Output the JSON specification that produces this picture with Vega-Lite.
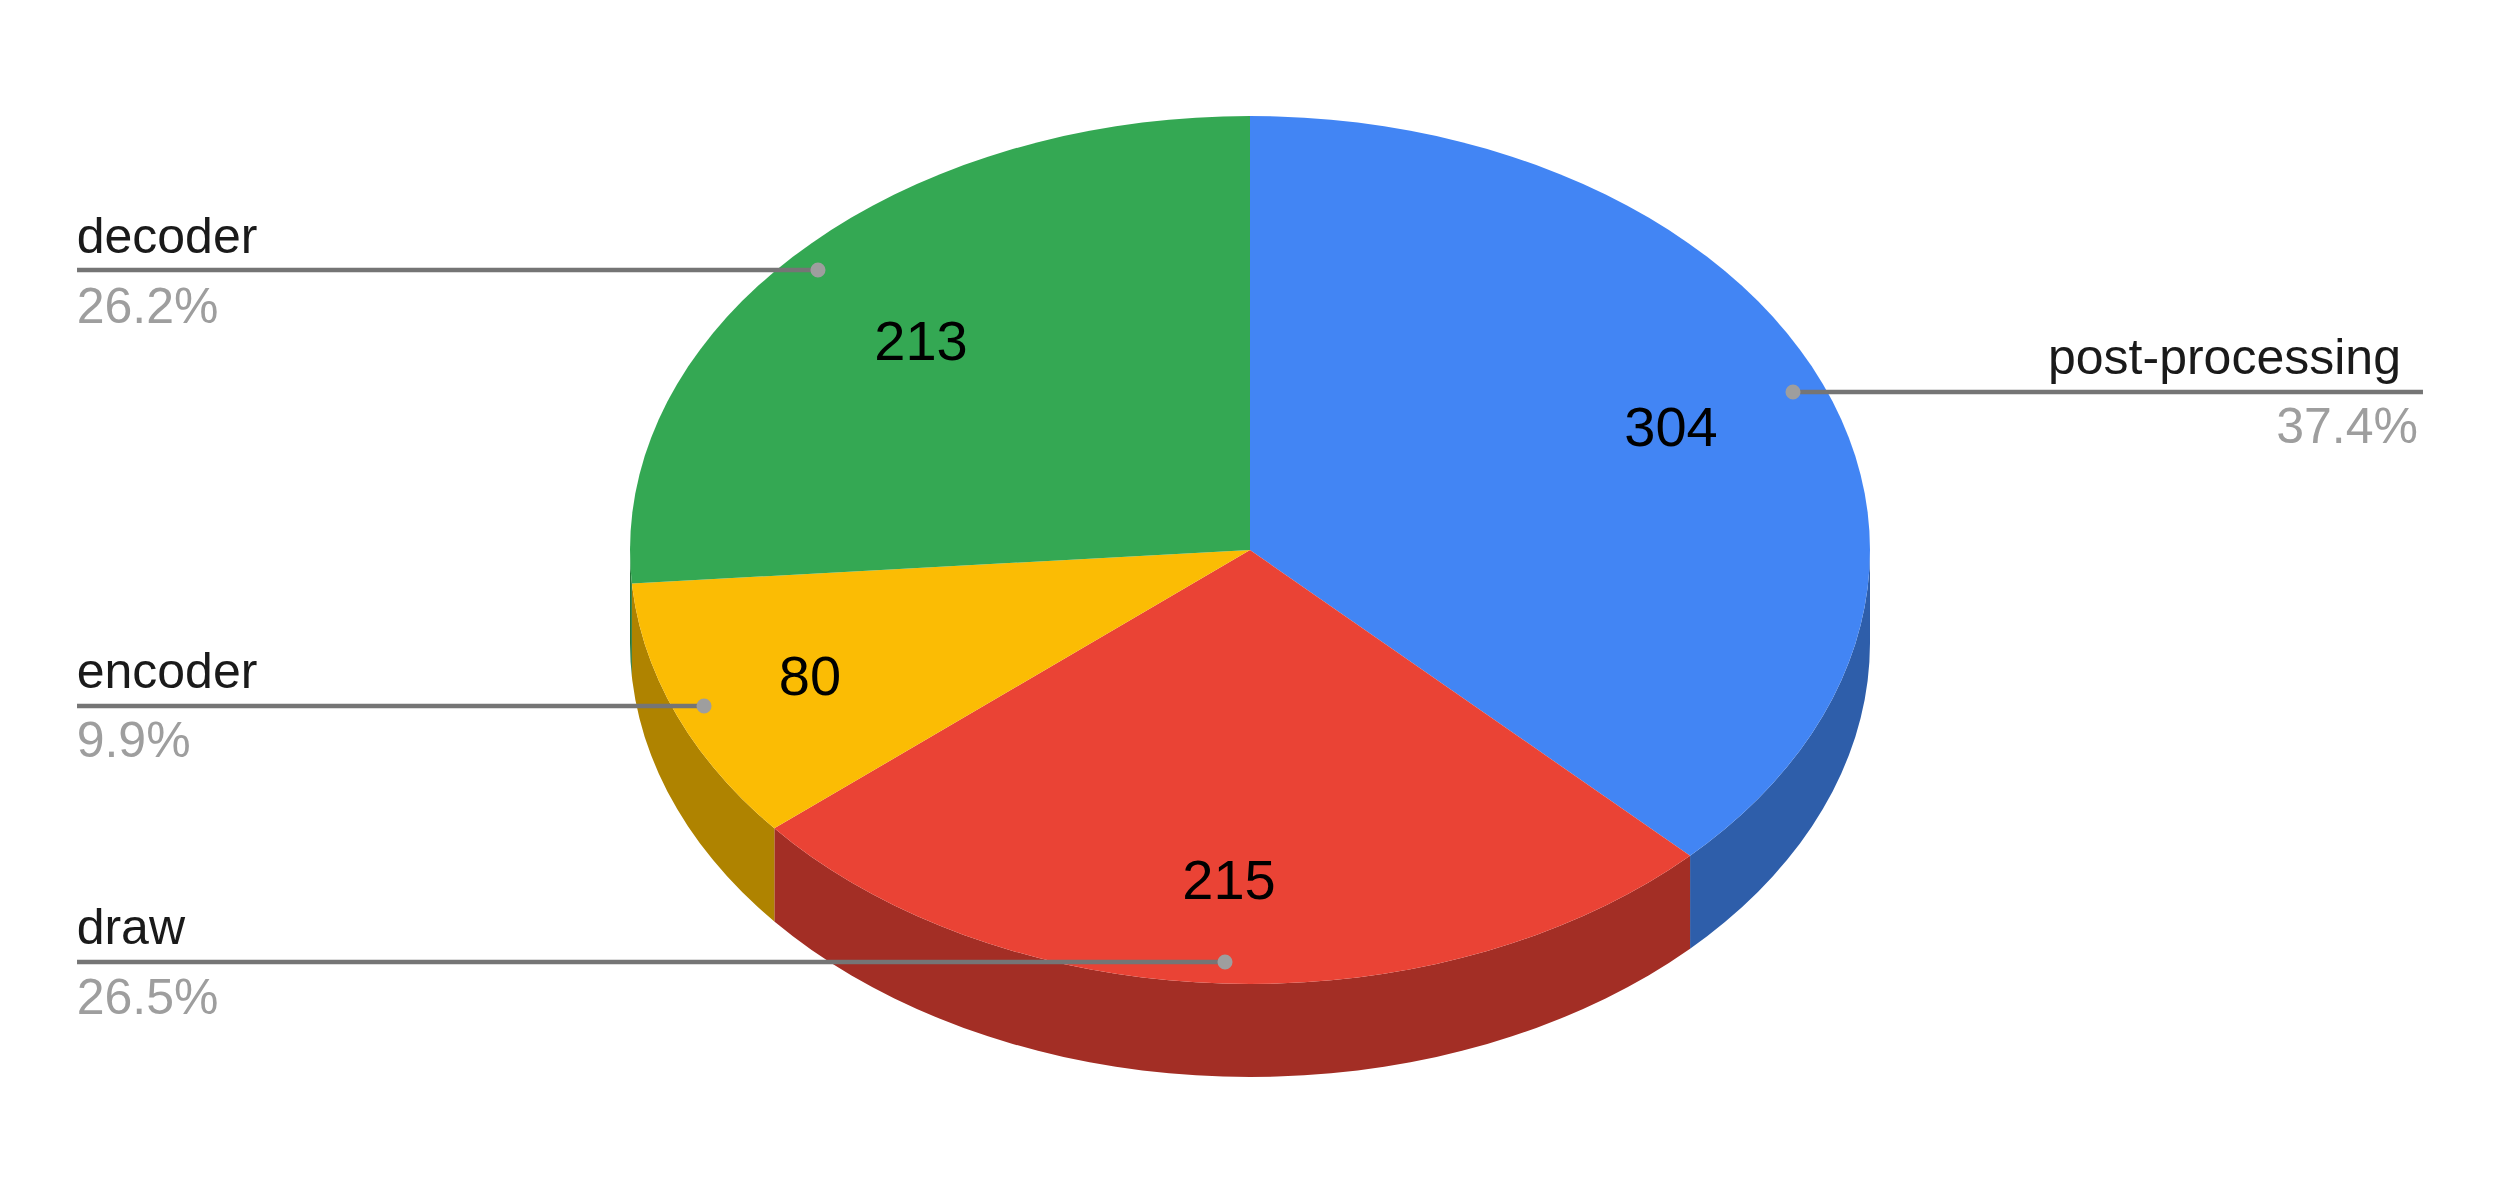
{
  "$schema": "https://vega.github.io/schema/vega-lite/v6.json",
  "description": "3D pie chart of time per stage, drawn as ellipse outlines squashed by the y scale",
  "background": "white",
  "padding": 0,
  "autosize": {"type": "fit", "contains": "padding"},
  "width": 2500,
  "height": 1203,
  "datasets": {
    "wall": [
      {"slice":"post-processing","x":100,"y":0,"y2":-21.43},{"slice":"post-processing","x":99.9,"y":-4.36,"y2":-25.79},{"slice":"post-processing","x":99.62,"y":-8.72,"y2":-30.15},{"slice":"post-processing","x":99.14,"y":-13.05,"y2":-34.48},
      {"slice":"post-processing","x":98.48,"y":-17.36,"y2":-38.79},{"slice":"post-processing","x":97.63,"y":-21.64,"y2":-43.07},{"slice":"post-processing","x":96.59,"y":-25.88,"y2":-47.31},{"slice":"post-processing","x":95.37,"y":-30.07,"y2":-51.5},
      {"slice":"post-processing","x":93.97,"y":-34.2,"y2":-55.63},{"slice":"post-processing","x":92.39,"y":-38.27,"y2":-59.7},{"slice":"post-processing","x":90.63,"y":-42.26,"y2":-63.69},{"slice":"post-processing","x":88.7,"y":-46.17,"y2":-67.6},
      {"slice":"post-processing","x":86.6,"y":-50,"y2":-71.43},{"slice":"post-processing","x":84.34,"y":-53.73,"y2":-75.16},{"slice":"post-processing","x":81.92,"y":-57.36,"y2":-78.79},{"slice":"post-processing","x":79.34,"y":-60.88,"y2":-82.31},
      {"slice":"post-processing","x":76.6,"y":-64.28,"y2":-85.71},{"slice":"post-processing","x":73.73,"y":-67.56,"y2":-88.99},{"slice":"post-processing","x":70.98,"y":-70.44,"y2":-91.87},
      {"slice":"draw","x":70.98,"y":-70.44,"y2":-91.87},{"slice":"draw","x":67.56,"y":-73.73,"y2":-95.16},{"slice":"draw","x":64.28,"y":-76.6,"y2":-98.03},{"slice":"draw","x":60.88,"y":-79.34,"y2":-100.77},
      {"slice":"draw","x":57.36,"y":-81.92,"y2":-103.35},{"slice":"draw","x":53.73,"y":-84.34,"y2":-105.77},{"slice":"draw","x":50,"y":-86.6,"y2":-108.03},{"slice":"draw","x":46.17,"y":-88.7,"y2":-110.13},
      {"slice":"draw","x":42.26,"y":-90.63,"y2":-112.06},{"slice":"draw","x":38.27,"y":-92.39,"y2":-113.82},{"slice":"draw","x":34.2,"y":-93.97,"y2":-115.4},{"slice":"draw","x":30.07,"y":-95.37,"y2":-116.8},
      {"slice":"draw","x":25.88,"y":-96.59,"y2":-118.02},{"slice":"draw","x":21.64,"y":-97.63,"y2":-119.06},{"slice":"draw","x":17.36,"y":-98.48,"y2":-119.91},{"slice":"draw","x":13.05,"y":-99.14,"y2":-120.57},
      {"slice":"draw","x":8.72,"y":-99.62,"y2":-121.05},{"slice":"draw","x":4.36,"y":-99.9,"y2":-121.33},{"slice":"draw","x":0,"y":-100,"y2":-121.43},{"slice":"draw","x":-4.36,"y":-99.9,"y2":-121.33},
      {"slice":"draw","x":-8.72,"y":-99.62,"y2":-121.05},{"slice":"draw","x":-13.05,"y":-99.14,"y2":-120.57},{"slice":"draw","x":-17.36,"y":-98.48,"y2":-119.91},{"slice":"draw","x":-21.64,"y":-97.63,"y2":-119.06},
      {"slice":"draw","x":-25.88,"y":-96.59,"y2":-118.02},{"slice":"draw","x":-30.07,"y":-95.37,"y2":-116.8},{"slice":"draw","x":-34.2,"y":-93.97,"y2":-115.4},{"slice":"draw","x":-38.27,"y":-92.39,"y2":-113.82},
      {"slice":"draw","x":-42.26,"y":-90.63,"y2":-112.06},{"slice":"draw","x":-46.17,"y":-88.7,"y2":-110.13},{"slice":"draw","x":-50,"y":-86.6,"y2":-108.03},{"slice":"draw","x":-53.73,"y":-84.34,"y2":-105.77},
      {"slice":"draw","x":-57.36,"y":-81.92,"y2":-103.35},{"slice":"draw","x":-60.88,"y":-79.34,"y2":-100.77},{"slice":"draw","x":-64.28,"y":-76.6,"y2":-98.03},{"slice":"draw","x":-67.56,"y":-73.73,"y2":-95.16},
      {"slice":"draw","x":-70.71,"y":-70.71,"y2":-92.14},{"slice":"draw","x":-73.73,"y":-67.56,"y2":-88.99},{"slice":"draw","x":-76.72,"y":-64.14,"y2":-85.57},
      {"slice":"encoder","x":-76.72,"y":-64.14,"y2":-85.57},{"slice":"encoder","x":-79.34,"y":-60.88,"y2":-82.31},{"slice":"encoder","x":-81.92,"y":-57.36,"y2":-78.79},{"slice":"encoder","x":-84.34,"y":-53.73,"y2":-75.16},
      {"slice":"encoder","x":-86.6,"y":-50,"y2":-71.43},{"slice":"encoder","x":-88.7,"y":-46.17,"y2":-67.6},{"slice":"encoder","x":-90.63,"y":-42.26,"y2":-63.69},{"slice":"encoder","x":-92.39,"y":-38.27,"y2":-59.7},
      {"slice":"encoder","x":-93.97,"y":-34.2,"y2":-55.63},{"slice":"encoder","x":-95.37,"y":-30.07,"y2":-51.5},{"slice":"encoder","x":-96.59,"y":-25.88,"y2":-47.31},{"slice":"encoder","x":-97.63,"y":-21.64,"y2":-43.07},
      {"slice":"encoder","x":-98.48,"y":-17.36,"y2":-38.79},{"slice":"encoder","x":-99.14,"y":-13.05,"y2":-34.48},{"slice":"encoder","x":-99.62,"y":-8.72,"y2":-30.15},{"slice":"encoder","x":-99.7,"y":-7.72,"y2":-29.15},
      {"slice":"decoder","x":-99.7,"y":-7.72,"y2":-29.15},{"slice":"decoder","x":-99.9,"y":-4.36,"y2":-25.79},{"slice":"decoder","x":-100,"y":0,"y2":-21.43}
    ],
    "top": [
      {"slice":"post-processing","x":0,"y":0},{"slice":"post-processing","x":0,"y":100},{"slice":"post-processing","x":4.36,"y":99.9},{"slice":"post-processing","x":8.72,"y":99.62},{"slice":"post-processing","x":13.05,"y":99.14},
      {"slice":"post-processing","x":17.36,"y":98.48},{"slice":"post-processing","x":21.64,"y":97.63},{"slice":"post-processing","x":25.88,"y":96.59},{"slice":"post-processing","x":30.07,"y":95.37},{"slice":"post-processing","x":34.2,"y":93.97},
      {"slice":"post-processing","x":38.27,"y":92.39},{"slice":"post-processing","x":42.26,"y":90.63},{"slice":"post-processing","x":46.17,"y":88.7},{"slice":"post-processing","x":50,"y":86.6},{"slice":"post-processing","x":53.73,"y":84.34},
      {"slice":"post-processing","x":57.36,"y":81.92},{"slice":"post-processing","x":60.88,"y":79.34},{"slice":"post-processing","x":64.28,"y":76.6},{"slice":"post-processing","x":67.56,"y":73.73},{"slice":"post-processing","x":70.71,"y":70.71},
      {"slice":"post-processing","x":73.73,"y":67.56},{"slice":"post-processing","x":76.6,"y":64.28},{"slice":"post-processing","x":79.34,"y":60.88},{"slice":"post-processing","x":81.92,"y":57.36},{"slice":"post-processing","x":84.34,"y":53.73},
      {"slice":"post-processing","x":86.6,"y":50},{"slice":"post-processing","x":88.7,"y":46.17},{"slice":"post-processing","x":90.63,"y":42.26},{"slice":"post-processing","x":92.39,"y":38.27},{"slice":"post-processing","x":93.97,"y":34.2},
      {"slice":"post-processing","x":95.37,"y":30.07},{"slice":"post-processing","x":96.59,"y":25.88},{"slice":"post-processing","x":97.63,"y":21.64},{"slice":"post-processing","x":98.48,"y":17.36},{"slice":"post-processing","x":99.14,"y":13.05},
      {"slice":"post-processing","x":99.62,"y":8.72},{"slice":"post-processing","x":99.9,"y":4.36},{"slice":"post-processing","x":100,"y":0},{"slice":"post-processing","x":99.9,"y":-4.36},{"slice":"post-processing","x":99.62,"y":-8.72},
      {"slice":"post-processing","x":99.14,"y":-13.05},{"slice":"post-processing","x":98.48,"y":-17.36},{"slice":"post-processing","x":97.63,"y":-21.64},{"slice":"post-processing","x":96.59,"y":-25.88},{"slice":"post-processing","x":95.37,"y":-30.07},
      {"slice":"post-processing","x":93.97,"y":-34.2},{"slice":"post-processing","x":92.39,"y":-38.27},{"slice":"post-processing","x":90.63,"y":-42.26},{"slice":"post-processing","x":88.7,"y":-46.17},{"slice":"post-processing","x":86.6,"y":-50},
      {"slice":"post-processing","x":84.34,"y":-53.73},{"slice":"post-processing","x":81.92,"y":-57.36},{"slice":"post-processing","x":79.34,"y":-60.88},{"slice":"post-processing","x":76.6,"y":-64.28},{"slice":"post-processing","x":73.73,"y":-67.56},
      {"slice":"post-processing","x":70.98,"y":-70.44},
      {"slice":"draw","x":0,"y":0},{"slice":"draw","x":70.98,"y":-70.44},{"slice":"draw","x":67.56,"y":-73.73},{"slice":"draw","x":64.28,"y":-76.6},{"slice":"draw","x":60.88,"y":-79.34},
      {"slice":"draw","x":57.36,"y":-81.92},{"slice":"draw","x":53.73,"y":-84.34},{"slice":"draw","x":50,"y":-86.6},{"slice":"draw","x":46.17,"y":-88.7},{"slice":"draw","x":42.26,"y":-90.63},
      {"slice":"draw","x":38.27,"y":-92.39},{"slice":"draw","x":34.2,"y":-93.97},{"slice":"draw","x":30.07,"y":-95.37},{"slice":"draw","x":25.88,"y":-96.59},{"slice":"draw","x":21.64,"y":-97.63},
      {"slice":"draw","x":17.36,"y":-98.48},{"slice":"draw","x":13.05,"y":-99.14},{"slice":"draw","x":8.72,"y":-99.62},{"slice":"draw","x":4.36,"y":-99.9},{"slice":"draw","x":0,"y":-100},
      {"slice":"draw","x":-4.36,"y":-99.9},{"slice":"draw","x":-8.72,"y":-99.62},{"slice":"draw","x":-13.05,"y":-99.14},{"slice":"draw","x":-17.36,"y":-98.48},{"slice":"draw","x":-21.64,"y":-97.63},
      {"slice":"draw","x":-25.88,"y":-96.59},{"slice":"draw","x":-30.07,"y":-95.37},{"slice":"draw","x":-34.2,"y":-93.97},{"slice":"draw","x":-38.27,"y":-92.39},{"slice":"draw","x":-42.26,"y":-90.63},
      {"slice":"draw","x":-46.17,"y":-88.7},{"slice":"draw","x":-50,"y":-86.6},{"slice":"draw","x":-53.73,"y":-84.34},{"slice":"draw","x":-57.36,"y":-81.92},{"slice":"draw","x":-60.88,"y":-79.34},
      {"slice":"draw","x":-64.28,"y":-76.6},{"slice":"draw","x":-67.56,"y":-73.73},{"slice":"draw","x":-70.71,"y":-70.71},{"slice":"draw","x":-73.73,"y":-67.56},{"slice":"draw","x":-76.72,"y":-64.14},
      {"slice":"encoder","x":0,"y":0},{"slice":"encoder","x":-76.72,"y":-64.14},{"slice":"encoder","x":-79.34,"y":-60.88},{"slice":"encoder","x":-81.92,"y":-57.36},{"slice":"encoder","x":-84.34,"y":-53.73},
      {"slice":"encoder","x":-86.6,"y":-50},{"slice":"encoder","x":-88.7,"y":-46.17},{"slice":"encoder","x":-90.63,"y":-42.26},{"slice":"encoder","x":-92.39,"y":-38.27},{"slice":"encoder","x":-93.97,"y":-34.2},
      {"slice":"encoder","x":-95.37,"y":-30.07},{"slice":"encoder","x":-96.59,"y":-25.88},{"slice":"encoder","x":-97.63,"y":-21.64},{"slice":"encoder","x":-98.48,"y":-17.36},{"slice":"encoder","x":-99.14,"y":-13.05},
      {"slice":"encoder","x":-99.62,"y":-8.72},{"slice":"encoder","x":-99.7,"y":-7.72},
      {"slice":"decoder","x":0,"y":0},{"slice":"decoder","x":-99.7,"y":-7.72},{"slice":"decoder","x":-99.9,"y":-4.36},{"slice":"decoder","x":-100,"y":0},{"slice":"decoder","x":-99.9,"y":4.36},
      {"slice":"decoder","x":-99.62,"y":8.72},{"slice":"decoder","x":-99.14,"y":13.05},{"slice":"decoder","x":-98.48,"y":17.36},{"slice":"decoder","x":-97.63,"y":21.64},{"slice":"decoder","x":-96.59,"y":25.88},
      {"slice":"decoder","x":-95.37,"y":30.07},{"slice":"decoder","x":-93.97,"y":34.2},{"slice":"decoder","x":-92.39,"y":38.27},{"slice":"decoder","x":-90.63,"y":42.26},{"slice":"decoder","x":-88.7,"y":46.17},
      {"slice":"decoder","x":-86.6,"y":50},{"slice":"decoder","x":-84.34,"y":53.73},{"slice":"decoder","x":-81.92,"y":57.36},{"slice":"decoder","x":-79.34,"y":60.88},{"slice":"decoder","x":-76.6,"y":64.28},
      {"slice":"decoder","x":-73.73,"y":67.56},{"slice":"decoder","x":-70.71,"y":70.71},{"slice":"decoder","x":-67.56,"y":73.73},{"slice":"decoder","x":-64.28,"y":76.6},{"slice":"decoder","x":-60.88,"y":79.34},
      {"slice":"decoder","x":-57.36,"y":81.92},{"slice":"decoder","x":-53.73,"y":84.34},{"slice":"decoder","x":-50,"y":86.6},{"slice":"decoder","x":-46.17,"y":88.7},{"slice":"decoder","x":-42.26,"y":90.63},
      {"slice":"decoder","x":-38.27,"y":92.39},{"slice":"decoder","x":-34.2,"y":93.97},{"slice":"decoder","x":-30.07,"y":95.37},{"slice":"decoder","x":-25.88,"y":96.59},{"slice":"decoder","x":-21.64,"y":97.63},
      {"slice":"decoder","x":-17.36,"y":98.48},{"slice":"decoder","x":-13.05,"y":99.14},{"slice":"decoder","x":-8.72,"y":99.62},{"slice":"decoder","x":-4.36,"y":99.9},{"slice":"decoder","x":0,"y":100}
    ],
    "slices": [
      {"slice": "post-processing", "value": 304, "share": "37.4%", "side": "right", "lineX": 189.19, "dotX": 87.58, "lineY": 36.41, "nameX": 185.64, "nameY": 40.66, "shareX": 188.39, "shareY": 24.65, "valueX": 67.9, "valueY": 23.9},
      {"slice": "draw", "value": 215, "share": "26.5%", "side": "left", "lineX": -189.19, "dotX": -4.03, "lineY": -94.93, "nameX": -189.25, "nameY": -90.67, "shareX": -189.25, "shareY": -106.88, "valueX": -3.39, "valueY": -80.41},
      {"slice": "encoder", "value": 80, "share": "9.9%", "side": "left", "lineX": -189.19, "dotX": -88.06, "lineY": -35.94, "nameX": -189.25, "nameY": -31.69, "shareX": -189.25, "shareY": -47.7, "valueX": -70.97, "valueY": -33.41},
      {"slice": "decoder", "value": 213, "share": "26.2%", "side": "left", "lineX": -189.19, "dotX": -69.68, "lineY": 64.52, "nameX": -189.25, "nameY": 68.54, "shareX": -189.25, "shareY": 52.33, "valueX": -53.06, "valueY": 43.79}
    ]
  },
  "layer": [
    {
      "data": {"name": "wall"},
      "mark": {"type": "area"},
      "encoding": {
        "x": {"field": "x", "type": "quantitative", "axis": null, "scale": {"domain": [-201.613, 201.613], "nice": false, "zero": false}},
        "y": {"field": "y", "type": "quantitative", "axis": null, "scale": {"domain": [-150.46, 126.73], "nice": false, "zero": false}},
        "y2": {"field": "y2"},
        "color": {"field": "slice", "type": "nominal", "legend": null, "scale": {"domain": ["post-processing", "draw", "encoder", "decoder"], "range": ["#2e5eaa", "#a32e25", "#af8300", "#247538"]}}
      }
    },
    {
      "data": {"name": "top"},
      "mark": {"type": "line", "filled": true},
      "encoding": {
        "x": {"field": "x", "type": "quantitative", "axis": null},
        "y": {"field": "y", "type": "quantitative", "axis": null},
        "order": {"value": null},
        "color": {"field": "slice", "type": "nominal", "legend": null, "scale": {"domain": ["post-processing", "draw", "encoder", "decoder"], "range": ["#4285f4", "#ea4335", "#fbbc04", "#34a853"]}}
      }
    },
    {
      "data": {"name": "slices"},
      "mark": {"type": "rule", "color": "#757575", "strokeWidth": 4.5},
      "encoding": {
        "x": {"field": "lineX", "type": "quantitative", "axis": null},
        "x2": {"field": "dotX"},
        "y": {"field": "lineY", "type": "quantitative", "axis": null}
      }
    },
    {
      "data": {"name": "slices"},
      "mark": {"type": "circle", "color": "#9e9e9e", "opacity": 1, "size": 227},
      "encoding": {
        "x": {"field": "dotX", "type": "quantitative", "axis": null},
        "y": {"field": "lineY", "type": "quantitative", "axis": null}
      }
    },
    {
      "data": {"name": "slices"},
      "transform": [{"filter": "datum.side == 'left'"}],
      "mark": {"type": "text", "align": "left", "baseline": "alphabetic", "font": "Liberation Sans", "fontSize": 50, "color": "#1a1a1a"},
      "encoding": {
        "x": {"field": "nameX", "type": "quantitative", "axis": null},
        "y": {"field": "nameY", "type": "quantitative", "axis": null},
        "text": {"field": "slice"}
      }
    },
    {
      "data": {"name": "slices"},
      "transform": [{"filter": "datum.side == 'right'"}],
      "mark": {"type": "text", "align": "right", "baseline": "alphabetic", "font": "Liberation Sans", "fontSize": 50, "color": "#1a1a1a"},
      "encoding": {
        "x": {"field": "nameX", "type": "quantitative", "axis": null},
        "y": {"field": "nameY", "type": "quantitative", "axis": null},
        "text": {"field": "slice"}
      }
    },
    {
      "data": {"name": "slices"},
      "transform": [{"filter": "datum.side == 'left'"}],
      "mark": {"type": "text", "align": "left", "baseline": "alphabetic", "font": "Liberation Sans", "fontSize": 50, "color": "#9e9e9e"},
      "encoding": {
        "x": {"field": "shareX", "type": "quantitative", "axis": null},
        "y": {"field": "shareY", "type": "quantitative", "axis": null},
        "text": {"field": "share"}
      }
    },
    {
      "data": {"name": "slices"},
      "transform": [{"filter": "datum.side == 'right'"}],
      "mark": {"type": "text", "align": "right", "baseline": "alphabetic", "font": "Liberation Sans", "fontSize": 50, "color": "#9e9e9e"},
      "encoding": {
        "x": {"field": "shareX", "type": "quantitative", "axis": null},
        "y": {"field": "shareY", "type": "quantitative", "axis": null},
        "text": {"field": "share"}
      }
    },
    {
      "data": {"name": "slices"},
      "mark": {"type": "text", "align": "center", "baseline": "alphabetic", "font": "Liberation Sans", "fontSize": 56, "color": "#000000"},
      "encoding": {
        "x": {"field": "valueX", "type": "quantitative", "axis": null},
        "y": {"field": "valueY", "type": "quantitative", "axis": null},
        "text": {"field": "value", "type": "quantitative"}
      }
    }
  ],
  "resolve": {"scale": {"color": "independent"}},
  "config": {"view": {"stroke": null}}
}
